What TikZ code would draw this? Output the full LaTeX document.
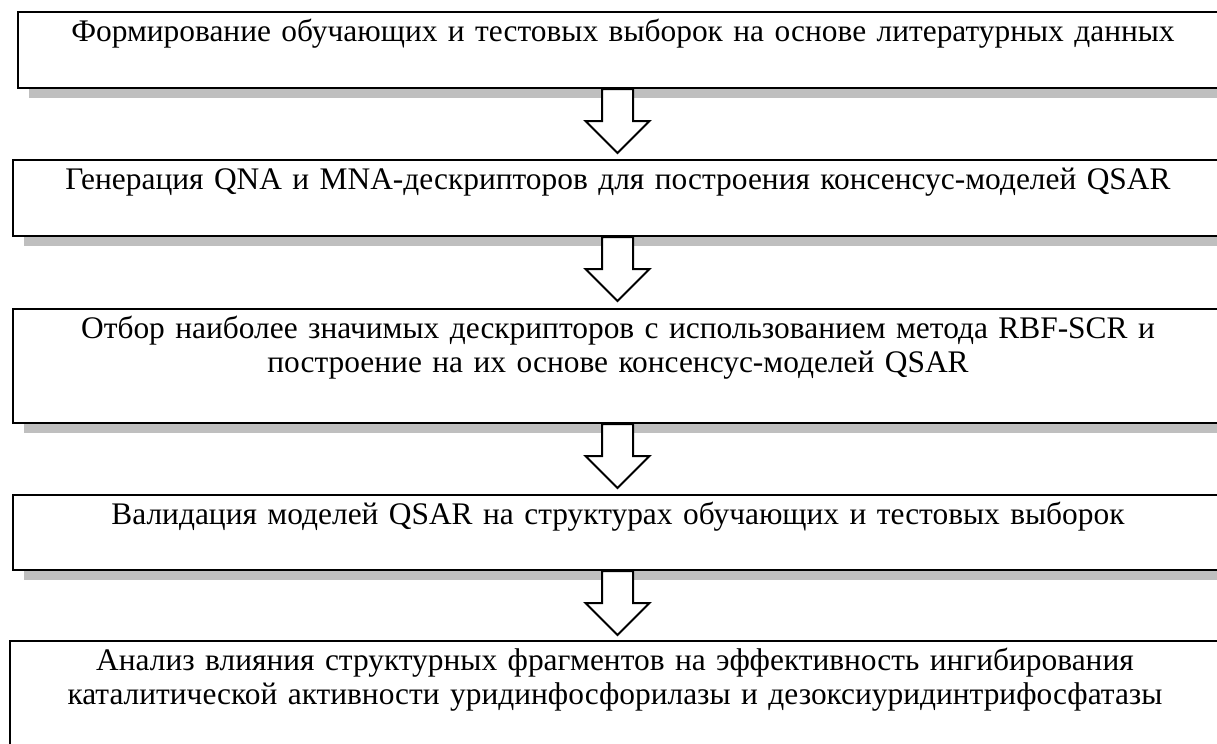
\documentclass[tikz,border=0pt]{standalone}
\usepackage{fontspec}
\setmainfont{Liberation Serif}
\usetikzlibrary{positioning, shadows}

\begin{document}
\begin{tikzpicture}[font=\fontsize{15.7pt}{17pt}\selectfont]
\tikzstyle{stage}=[%
draw, line width=1pt, fill=white,
inner xsep=5pt, inner ysep=0pt,
text width=595pt, align=center,
text height=14.5pt,
drop shadow={shadow xshift=5.5pt, shadow yshift=-5pt, fill=black!25, opacity=1}
]
\tikzstyle{flow}=[draw, line width=1pt, fill=white]
   \fill[white, use as bounding box] (0,0) rectangle (608.5pt,-372pt);
   \node[stage, text depth=23.5pt, anchor=north west] (st1) at (8.5pt,-5.5pt) {Формирование обучающих и тестовых выборок на основе литературных данных};
   \node[stage, text depth=23.5pt, below right=35pt and -2.5pt of st1.south west] (st2) {Генерация QNA и MNA-дескрипторов для построения консенсус-моделей QSAR};
   \node[stage, text depth=42.5pt, below right=35.5pt and 0pt of st2.south west] (st3) {Отбор наиболее значимых дескрипторов с использованием метода RBF-SCR и \\ построение на их основе консенсус-моделей QSAR};
   \node[stage, text depth=23pt, below right=35pt and 0pt of st3.south west] (st4) {Валидация моделей QSAR на структурах обучающих и тестовых выборок};
   \node[stage, text depth=37.5pt, below right=34.5pt and -1.5pt of st4.south west] (st5) {Анализ влияния структурных фрагментов на эффективность ингибирования \\ каталитической активности уридинфосфорилазы и дезоксиуридинтрифосфатазы};
   % block arrows between the stages
   \coordinate (axis) at (308.75pt,0);
   \draw[flow] (axis |- st1.south) -- ++(7.75pt,0) -- ++(0,-16pt) -- ++(8.25pt,0) -- ++(-16pt,-16pt) -- ++(-16pt,16pt) -- ++(8.25pt,0) -- ++(0,16pt) -- cycle;
   \draw[flow] (axis |- st2.south) -- ++(7.75pt,0) -- ++(0,-16pt) -- ++(8.25pt,0) -- ++(-16pt,-16pt) -- ++(-16pt,16pt) -- ++(8.25pt,0) -- ++(0,16pt) -- cycle;
   \draw[flow] (axis |- st3.south) -- ++(7.75pt,0) -- ++(0,-16pt) -- ++(8.25pt,0) -- ++(-16pt,-16pt) -- ++(-16pt,16pt) -- ++(8.25pt,0) -- ++(0,16pt) -- cycle;
   \draw[flow] (axis |- st4.south) -- ++(7.75pt,0) -- ++(0,-16pt) -- ++(8.25pt,0) -- ++(-16pt,-16pt) -- ++(-16pt,16pt) -- ++(8.25pt,0) -- ++(0,16pt) -- cycle;
\end{tikzpicture}
\end{document}
